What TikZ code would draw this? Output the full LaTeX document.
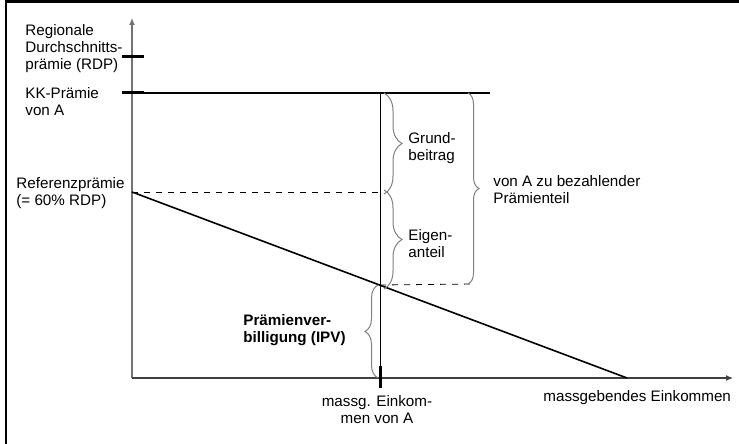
\documentclass[tikz,border=0pt]{standalone}
\usepackage{fontspec}
\setmainfont{Liberation Sans}
\usetikzlibrary{arrows.meta,decorations.pathreplacing}

\begin{document}
\begin{tikzpicture}[x=0.5pt,y=-0.5pt,
  font=\fontsize{7.6}{8.5}\selectfont,
  axis/.style={draw=black!55,line width=0.6pt,-{Latex[length=3.5pt,width=3pt]}},
  tick/.style={line width=1.5pt},
  lbl/.style={align=left,inner sep=0pt,anchor=west},
  brc/.style={draw=black!50,line width=0.5pt,decorate,
    decoration={brace,amplitude=#1}},
  brc/.default=8pt]
  \useasboundingbox (0,0) rectangle (739,444);
  % frame (cut off at right and bottom)
  \draw[line width=1.3pt] (6,1.3) rectangle (800,500);

  % points of the diagram
  \coordinate (o) at (132,378);
  \coordinate (ytop) at (132,18);
  \coordinate (xend) at (733,378);
  \coordinate (rdp) at (132,57);
  \coordinate (kk) at (132,93);
  \coordinate (ref) at (132,192);
  \coordinate (kkend) at (490,93);
  \coordinate (zero) at (627,378);
  \coordinate (atop) at (380,93);
  \coordinate (aref) at (380,192);
  \coordinate (ais) at (380,285);
  \coordinate (abot) at (380,378);
  \coordinate (bigbot) at (474,284);

  % axes and ticks
  \draw[axis] (o) -- (ytop);
  \draw[axis,draw=black!75] (o) -- (xend);
  \draw[tick] ([xshift=-5]rdp) -- ([xshift=6]rdp);
  \draw[tick] ([xshift=-5]kk) -- ([xshift=6]kk);
  \draw[tick] ([yshift=-5]abot) -- ([yshift=6]abot);

  % premium lines
  \draw[line width=0.6pt] (kk) -- (kkend);
  \draw[dashed,line width=0.4pt] (ref) -- (aref);
  \draw[line width=0.8pt] (ref) -- (zero);
  \draw[line width=0.5pt] (atop) -- (abot);
  \draw[dashed,line width=0.4pt] (ais) -- (bigbot);

  % braces
  \draw[brc=9pt] ([xshift=2]atop) -- ([xshift=2,yshift=-1]aref);
  \draw[brc=9pt] ([xshift=2,yshift=1]aref) -- ([xshift=2,yshift=-2]ais);
  \draw[brc=5.5pt] (468,93) -- (468,284);
  \draw[brc=6.5pt] ([xshift=-1]abot) -- ([xshift=-1]ais);

  % labels
  \node[lbl] (lrdp) at (25,49) {Regionale\\Durchschnitts-\\prämie (RDP)};
  \node[lbl] (lkk) at (25,101.5) {KK-Prämie\\von A};
  \node[lbl] (lref) at (16,193.5) {Referenzprämie\\(= 60\% RDP)};
  \node[lbl] (lgrund) at (408,148) {Grund-\\beitrag};
  \node[lbl] (leigen) at (408,243.5) {Eigen-\\anteil};
  \node[lbl] (lteil) at (493,190) {von A zu bezahlender\\Prämienteil};
  \node[lbl,font=\fontsize{7.6}{8.5}\selectfont\bfseries] (lipv) at (243,330) {Prämienver-\\billigung (IPV)};
  \node[align=center,inner sep=0pt] (lmassg) at (377,410) {massg. Einkom-\\men von A};
  \node[lbl] (lx) at (543,398) {massgebendes Einkommen};
\end{tikzpicture}
\end{document}
